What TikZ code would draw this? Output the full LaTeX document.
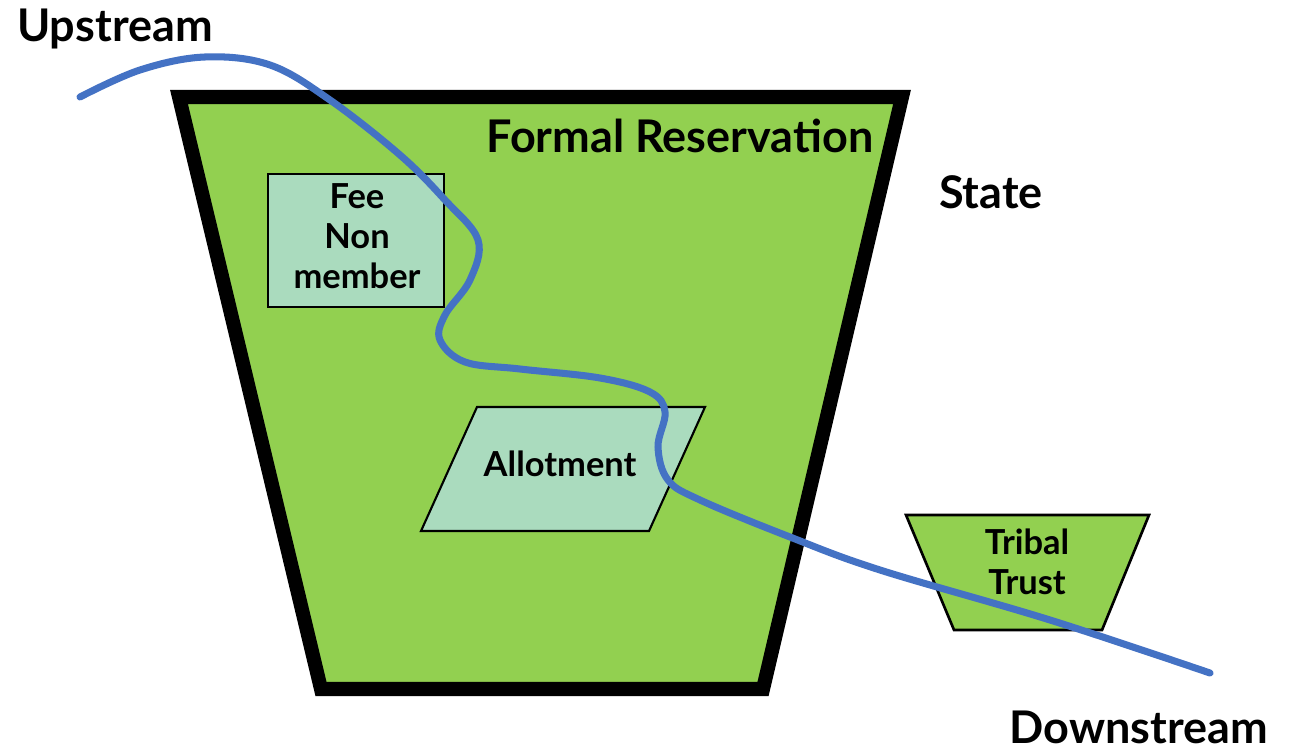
\documentclass[tikz,border=0pt]{standalone}
\usepackage{fontspec}
\setmainfont{Lato}
\usetikzlibrary{positioning}
\definecolor{resgreen}{HTML}{92D050}
\definecolor{plotgreen}{HTML}{AADBBE}
\definecolor{riverblue}{HTML}{4472C4}

\begin{document}
\begin{tikzpicture}[x=0.01cm, y=-0.01cm,
    bigtxt/.style={font=\bfseries\fontsize{12.8}{15}\selectfont, anchor=base},
    smalltxt/.style={font=\bfseries\fontsize{9.8}{11.3}\selectfont, align=center, anchor=base},
    thinedge/.style={draw=black, line width=0.75pt}]
  \useasboundingbox (0,0) rectangle (1289,749);

  \draw[fill=resgreen, line width=4pt, line join=miter] (179,97) -- (902,97) -- (763,689) -- (321,689) -- cycle;
  \draw[thinedge, fill=plotgreen] (268,174) rectangle (444,307);
  \draw[thinedge, fill=plotgreen, line width=0.6pt] (477,407) -- (705,407) -- (649,531) -- (421,531) -- cycle;
  \draw[thinedge, fill=resgreen] (906,515) -- (1149,515) -- (1102,630) -- (954,630) -- cycle;

  \node[bigtxt] (reservation) at (680,153) {Formal Reservation};
  \node[bigtxt] (state) at (991,209) {State};
  \node[bigtxt] (upstream) at (115,42) {Upstream};
  \node[bigtxt] (downstream) at (1139,743) {Downstream};
  \node[smalltxt] (fee) at (357,288) {Fee\\Non\\member};
  \node[smalltxt] (allotment) at (560,476) {Allotment};
  \node[smalltxt] (tribal) at (1027,594) {Tribal\\Trust};

  \draw[riverblue, line width=2pt, line cap=round] plot[smooth, tension=0.6] coordinates {(80,97) (140,70) (205,57) (270,65) (330,100) (400,155) (445,200) (478,240) (470,280) (445,315) (440,340) (465,362) (520,369) (600,378) (650,392) (665,412) (658,447) (668,480) (700,500) (790,537) (880,570) (1050,620) (1210,673)};
\end{tikzpicture}
\end{document}
